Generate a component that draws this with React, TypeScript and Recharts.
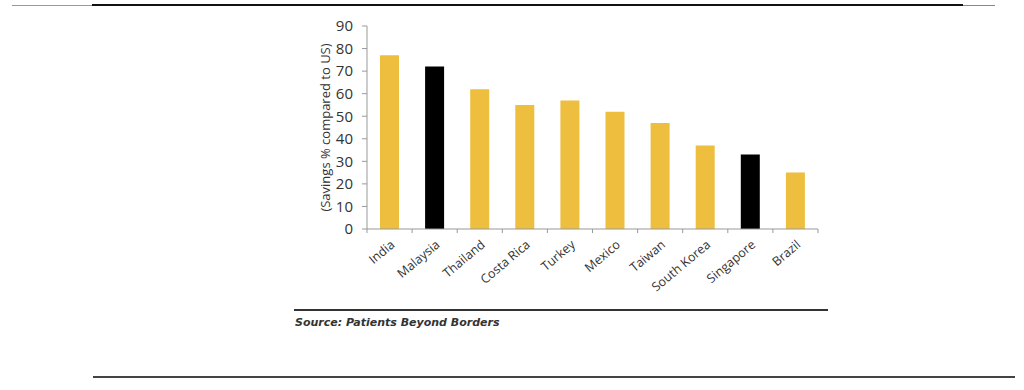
import React from "react";
import { BarChart, Bar, XAxis, YAxis, Cell } from "recharts";

const countries = ["India", "Malaysia", "Thailand", "Costa Rica", "Turkey", "Mexico", "Taiwan", "South Korea", "Singapore", "Brazil"];
const savings = [77, 72, 62, 55, 57, 52, 47, 37, 33, 25];
const highlighted = ["Malaysia", "Singapore"];
const yTicks = [0, 10, 20, 30, 40, 50, 60, 70, 80, 90];

const data = countries.map((c, i) => ({ country: c, value: savings[i] }));

const GOLD = "#EEBE3E";
const FONT = "'Open Sans', sans-serif";

const CatTick = (props: any) => {
  const { x, y, payload, index, visibleTicksCount } = props;
  const off = payload && typeof payload.offset === "number" ? payload.offset : 0;
  const isLast = visibleTicksCount ? index === visibleTicksCount - 1 : index === countries.length - 1;
  return (
    <g transform={`translate(${x},${y})`}>
      <line x1={-off} y1={0} x2={-off} y2={4} stroke="#999" />
      {isLast && <line x1={off} y1={0} x2={off} y2={4} stroke="#999" />}
      <text x={6} y={17} transform="rotate(-40 6 17)" textAnchor="end" fontSize={12.5} fill="#333" fontFamily={FONT}>
        {payload.value}
      </text>
    </g>
  );
};

const YLabel = (props: any) => {
  const vb = props.viewBox || {};
  const cx = vb.x + 18;
  const cy = vb.y + vb.height / 2;
  return (
    <text x={cx} y={cy} transform={`rotate(-90 ${cx} ${cy})`} textAnchor="middle" dominantBaseline="central" fontSize={13} fill="#333" fontFamily={FONT}>
      (Savings % compared to US)
    </text>
  );
};

export default function App() {
  return (
    <div style={{ position: "absolute", left: 0, top: 0, width: 1024, height: 390, background: "#fff", overflow: "hidden" }}>
      <div style={{ position: "absolute", left: 12, top: 5, width: 80, height: 1, background: "#999" }} />
      <div style={{ position: "absolute", left: 92, top: 4, width: 871, height: 2, background: "#111" }} />
      <div style={{ position: "absolute", left: 963, top: 5, width: 32, height: 1, background: "#888" }} />
      <BarChart width={1024} height={390} data={data} margin={{ top: 26, right: 206, bottom: 91, left: 307 }}>
        <XAxis xAxisId="cat" dataKey="country" interval={0} axisLine={{ stroke: "#999" }} tickLine={false} tickSize={0} tickMargin={0} tick={<CatTick />} height={70} />
        <YAxis domain={[0, 90]} ticks={yTicks} interval={0} width={60} tickSize={5} tickMargin={9} axisLine={{ stroke: "#999" }} tickLine={{ stroke: "#999" }} tick={{ fontSize: 15, fill: "#333", fontFamily: FONT }} label={<YLabel />} />
        <Bar xAxisId="cat" dataKey="value" barSize={19} isAnimationActive={false}>
          {data.map((d) => (
            <Cell key={d.country} fill={highlighted.includes(d.country) ? "#000" : GOLD} />
          ))}
        </Bar>
      </BarChart>
      <div style={{ position: "absolute", left: 294, top: 309, width: 534, height: 2, background: "#333" }} />
      <div style={{ position: "absolute", left: 295, top: 316, fontFamily: "'DejaVu Sans', sans-serif", fontSize: 11, fontWeight: "bold", fontStyle: "italic", color: "#333", whiteSpace: "nowrap" }}>
        Source: Patients Beyond Borders
      </div>
      <div style={{ position: "absolute", left: 93, top: 376, width: 922, height: 2, background: "#444" }} />
    </div>
  );
}
